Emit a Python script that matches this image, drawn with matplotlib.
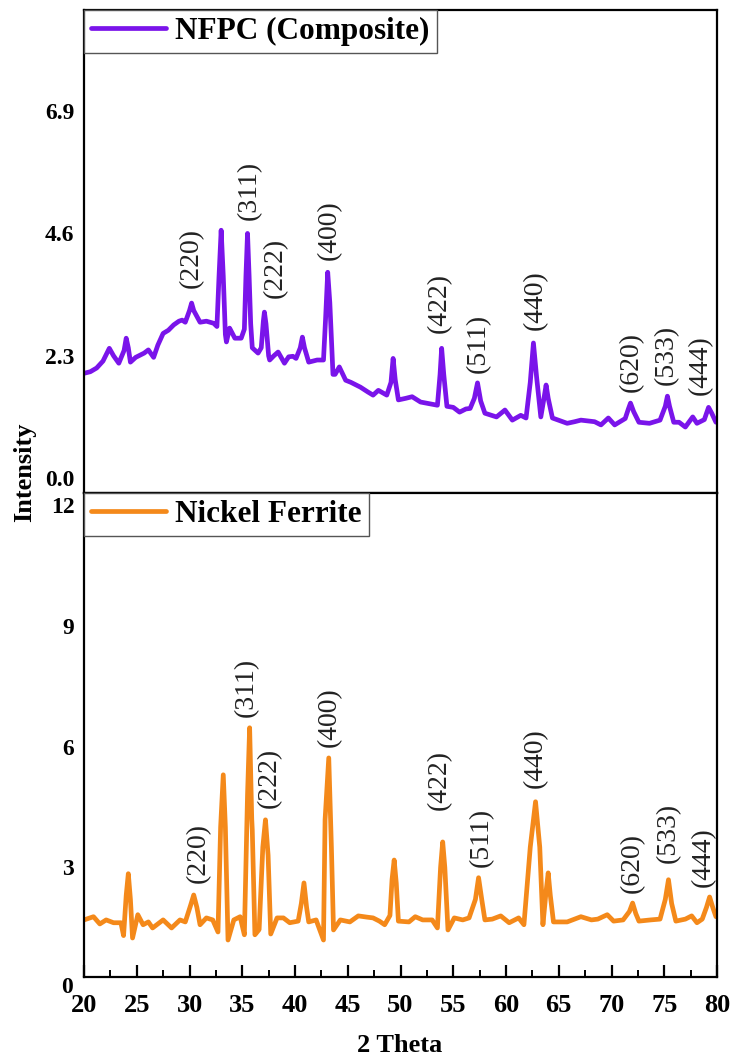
import matplotlib
matplotlib.use("Agg")
import matplotlib.pyplot as plt
from matplotlib.ticker import MultipleLocator
import matplotlib.transforms as mtransforms

# ---------------- data ----------------
nfpc_x = [20.0, 20.6, 21.2, 21.8, 22.4, 22.8, 23.3, 23.8, 24.0, 24.2, 24.4, 24.9, 25.3,
          25.7, 26.1, 26.6, 27.0, 27.5, 28.0, 28.5, 29.0, 29.3, 29.6, 30.0, 30.2, 30.4,
          31.0, 31.6, 32.3, 32.6, 32.8, 33.0, 33.2, 33.4, 33.5, 33.8, 34.3, 34.9, 35.2,
          35.35, 35.5, 35.65, 35.8, 35.95, 36.5, 36.8, 37.0, 37.1, 37.25, 37.5, 37.6,
          38.0, 38.4, 39.0, 39.4, 39.8, 40.1, 40.5, 40.7, 40.9, 41.3, 42.1, 42.7, 42.9,
          43.1, 43.3, 43.6, 43.8, 44.2, 44.8, 45.3, 45.8, 46.2, 46.9, 47.4, 47.9, 48.7,
          49.1, 49.3, 49.5, 49.8, 50.5, 51.1, 51.9, 52.7, 53.5, 53.75, 53.9, 54.1, 54.4,
          55.0, 55.6, 56.2, 56.6, 57.0, 57.3, 57.6, 58.0, 59.1, 59.9, 60.6, 61.4, 61.9,
          62.3, 62.6, 62.9, 63.3, 63.6, 63.8, 64.0, 64.4, 65.1, 65.8, 66.5, 67.1, 68.4,
          69.0, 69.7, 70.3, 71.3, 71.6, 71.8, 72.1, 72.6, 73.6, 74.6, 75.1, 75.3, 75.5,
          75.9, 76.4, 77.0, 77.7, 78.1, 78.8, 79.2, 79.5, 79.9]
nfpc_y = [1.97, 2.00, 2.07, 2.20, 2.44, 2.30, 2.16, 2.40, 2.63, 2.45, 2.18, 2.27, 2.31,
          2.35, 2.41, 2.27, 2.50, 2.72, 2.78, 2.88, 2.95, 2.97, 2.93, 3.15, 3.29, 3.15,
          2.93, 2.95, 2.91, 2.85, 3.80, 4.66, 3.80, 2.70, 2.56, 2.82, 2.63, 2.63, 2.80,
          3.80, 4.60, 3.80, 2.90, 2.45, 2.35, 2.45, 2.95, 3.12, 2.90, 2.30, 2.22,
          2.30, 2.37, 2.16, 2.28, 2.29, 2.25, 2.45, 2.65, 2.45, 2.18, 2.22, 2.22, 3.00,
          3.87, 3.30, 1.95, 1.95, 2.09, 1.84, 1.80, 1.75, 1.71, 1.62, 1.56, 1.65, 1.56,
          1.80, 2.25, 1.85, 1.47, 1.50, 1.53, 1.43, 1.40, 1.37, 1.95, 2.44, 1.95, 1.35,
          1.33, 1.24, 1.30, 1.31, 1.50, 1.79, 1.45, 1.22, 1.15, 1.28, 1.09, 1.18, 1.13,
          1.80, 2.54, 1.90, 1.15, 1.50, 1.75, 1.50, 1.13, 1.08, 1.03, 1.06, 1.09, 1.06,
          1.00, 1.13, 1.00, 1.12, 1.30, 1.41, 1.25, 1.05, 1.03, 1.09, 1.35, 1.54, 1.35,
          1.05, 1.05, 0.96, 1.15, 1.03, 1.10, 1.33, 1.22, 1.05]

nife_x = [20.0, 20.9, 21.5, 22.1, 22.8, 23.5, 23.75, 24.0, 24.2, 24.4, 24.6, 25.1, 25.6,
          26.1, 26.5, 27.5, 28.3, 29.1, 29.6, 30.1, 30.4, 30.7, 31.0, 31.6, 32.2, 32.7,
          32.95, 33.2, 33.4, 33.65, 34.2, 34.8, 35.2, 35.5, 35.7, 35.9, 35.95, 36.2, 36.6,
          36.95, 37.2, 37.45, 37.7, 38.3, 38.9, 39.5, 40.3, 40.6, 40.85, 41.1, 41.3, 42.0,
          42.7, 42.85, 43.2, 43.45, 43.65, 44.3, 45.2, 46.0, 46.8, 47.4, 48.0, 48.5, 49.0,
          49.2, 49.4, 49.6, 49.8, 50.8, 51.4, 52.1, 53.0, 53.5, 53.8, 54.0, 54.2, 54.5,
          55.1, 55.9, 56.5, 57.1, 57.4, 57.7, 58.0, 58.7, 59.5, 60.3, 61.2, 61.7, 62.3,
          62.8, 63.2, 63.5, 63.8, 64.0, 64.2, 64.5, 65.8, 67.1, 68.1, 68.7, 69.6, 70.2,
          71.1, 71.7, 72.0, 72.3, 72.6, 73.7, 74.6, 75.1, 75.4, 75.7, 76.1, 77.0, 77.6,
          78.1, 78.6, 79.0, 79.3, 79.6, 79.9]
nife_y = [1.69, 1.77, 1.59, 1.69, 1.62, 1.62, 1.30, 2.30, 2.84, 2.20, 1.24, 1.82, 1.57,
          1.64, 1.49, 1.69, 1.49, 1.69, 1.64, 2.05, 2.31, 2.00, 1.57, 1.74, 1.69, 1.39,
          4.00, 5.30, 4.00, 1.19, 1.69, 1.77, 1.32, 4.80, 6.47, 4.20, 3.93, 1.32, 1.45,
          3.50, 4.18, 3.30, 1.34, 1.74, 1.74, 1.62, 1.66, 2.10, 2.61, 2.00, 1.64, 1.69,
          1.19, 4.18, 5.72, 3.50, 1.44, 1.69, 1.64, 1.79, 1.76, 1.74, 1.66, 1.57, 1.80,
          2.70, 3.18, 2.60, 1.66, 1.64, 1.77, 1.69, 1.69, 1.49, 3.00, 3.63, 3.00, 1.44,
          1.74, 1.69, 1.74, 2.20, 2.74, 2.20, 1.69, 1.71, 1.79, 1.62, 1.74, 1.57, 3.50,
          4.63, 3.50, 1.57, 2.40, 2.86, 2.30, 1.64, 1.64, 1.77, 1.69, 1.71, 1.82, 1.66,
          1.69, 1.90, 2.11, 1.85, 1.66, 1.69, 1.71, 2.20, 2.69, 2.10, 1.66, 1.71, 1.79,
          1.62, 1.71, 2.00, 2.26, 2.00, 1.77]

hkl = ["(220)", "(311)", "(222)", "(400)", "(422)", "(511)", "(440)", "(620)", "(533)", "(444)"]
top_lab_x = [30.2, 35.7, 38.1, 43.3, 53.7, 57.4, 62.8, 71.9, 75.2, 78.4]
top_lab_y = [3.57, 4.85, 3.38, 4.10, 2.72, 1.97, 2.78, 1.62, 1.75, 1.56]
bot_lab_x = [30.8, 35.4, 37.6, 43.3, 53.7, 57.7, 62.8, 72.0, 75.4, 78.7]
bot_lab_y = [2.61, 6.74, 4.48, 6.00, 4.43, 3.01, 4.98, 2.36, 3.11, 2.51]

top_ticks = [0.0, 2.3, 4.6, 6.9]
top_ticklabels = ["0.0", "2.3", "4.6", "6.9"]
bot_ticks = [3, 6, 9, 12]
x_ticks = [20, 25, 30, 35, 40, 45, 50, 55, 60, 65, 70, 75, 80]

purple = "#7A14EA"
orange = "#F4891A"

serif = ["Liberation Serif", "DejaVu Serif"]
plt.rcParams["font.family"] = serif

W, H = 732, 1064
fig = plt.figure(figsize=(W / 100, H / 100), dpi=100)

left, right = 84 / W, 717 / W
ax1 = fig.add_axes([left, 1 - 493 / H, right - left, (493 - 10) / H])
ax2 = fig.add_axes([left, 1 - 977 / H, right - left, (977 - 493) / H])

for ax in (ax1, ax2):
    for s in ax.spines.values():
        s.set_linewidth(1.6)
        s.set_color("black")
    ax.set_xlim(20, 80)

LAB_FS = 20
LEG_FS = 22.5
YT_FS = 17
YPAD = 7

# top panel
ax1.plot(nfpc_x, nfpc_y, color=purple, lw=3.4, label="NFPC (Composite)",
         solid_joinstyle="round", solid_capstyle="round")
ax1.set_ylim(-0.28, 8.8)
ax1.set_yticks(top_ticks)
ax1.set_yticklabels(top_ticklabels)
ax1.tick_params(axis="y", length=0, labelsize=YT_FS, pad=YPAD)
ax1.tick_params(axis="x", length=0, labelbottom=False)
for t in ax1.get_yticklabels():
    t.set_fontweight("bold")
for lab, xx, yy in zip(hkl, top_lab_x, top_lab_y):
    ax1.text(xx, yy, lab, rotation=90, ha="center", va="bottom", fontsize=LAB_FS, color="#222222")
leg1 = ax1.legend(loc="upper left", bbox_to_anchor=(0, 1), borderaxespad=0, fancybox=False,
                  prop={"family": serif, "weight": "bold", "size": LEG_FS}, handlelength=2.4,
                  handletextpad=0.3, borderpad=0.22, framealpha=1)
leg1.get_frame().set_edgecolor("#555555")
leg1.get_frame().set_linewidth(1.0)

# bottom panel
ax2.plot(nife_x, nife_y, color=orange, lw=3.4, label="Nickel Ferrite",
         solid_joinstyle="round", solid_capstyle="round")
ax2.set_ylim(0.27, 12.31)
ax2.set_yticks(bot_ticks)
ax2.tick_params(axis="y", length=0, labelsize=YT_FS, pad=YPAD)
for t in ax2.get_yticklabels():
    t.set_fontweight("bold")
trans = mtransforms.blended_transform_factory(ax2.transAxes, ax2.transData)
ax2.text(-0.018, 0.0, "0", transform=trans, ha="right", va="center", fontsize=YT_FS,
         fontweight="bold", clip_on=False)
ax2.set_xticks(x_ticks)
ax2.xaxis.set_minor_locator(MultipleLocator(2.5))
ax2.tick_params(axis="x", which="major", direction="in", length=9, width=1.6, labelsize=19, pad=12)
ax2.tick_params(axis="x", which="minor", direction="in", length=5, width=1.4)
for t in ax2.get_xticklabels():
    t.set_fontweight("bold")
for lab, xx, yy in zip(hkl, bot_lab_x, bot_lab_y):
    ax2.text(xx, yy, lab, rotation=90, ha="center", va="bottom", fontsize=LAB_FS, color="#222222")
leg2 = ax2.legend(loc="upper left", bbox_to_anchor=(0, 1), borderaxespad=0, fancybox=False,
                  prop={"family": serif, "weight": "bold", "size": LEG_FS}, handlelength=2.4,
                  handletextpad=0.3, borderpad=0.22, framealpha=1)
leg2.get_frame().set_edgecolor("#555555")
leg2.get_frame().set_linewidth(1.0)

fig.text(400 / W, 1 - 1046 / H, "2 Theta", ha="center", va="center", fontsize=19, fontweight="bold")
fig.text(25 / W, 1 - 472 / H, "Intensity", ha="center", va="center", rotation=90,
         fontsize=19, fontweight="bold")

fig.savefig("out.png", dpi=100)
